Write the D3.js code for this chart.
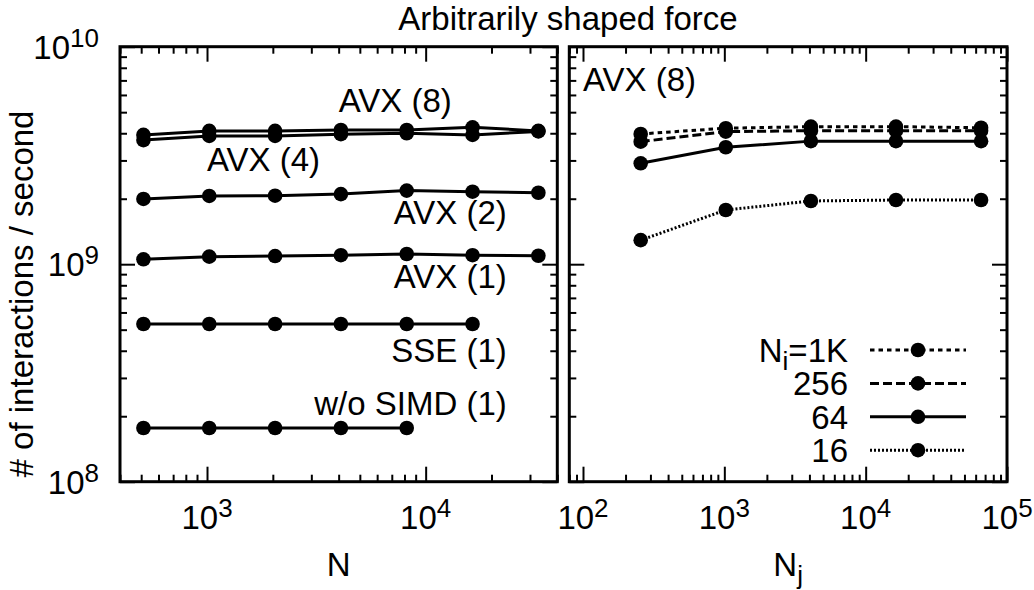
<!DOCTYPE html>
<html><head><meta charset="utf-8">
<script src="https://cdn.jsdelivr.net/npm/d3@7"></script>
<style>
body{margin:0;background:#fff}
svg{display:block}
text{font-family:"Liberation Sans",Arial,Helvetica,sans-serif;fill:#000}
</style>
</head><body>
<svg id="c" width="1034" height="590"></svg>
<script>
// ---------- data ----------
const N_values = [512, 1024, 2048, 4096, 8192, 16384, 32768];
const avx8   = [3.93e9, 4.10e9, 4.10e9, 4.14e9, 4.14e9, 4.26e9, 4.10e9];
const avx4   = [3.72e9, 3.89e9, 3.89e9, 3.96e9, 4.00e9, 3.93e9, 4.08e9];
const avx2   = [1.995e9, 2.06e9, 2.065e9, 2.10e9, 2.18e9, 2.155e9, 2.13e9];
const avx1   = [1.053e9, 1.083e9, 1.09e9, 1.10e9, 1.114e9, 1.10e9, 1.094e9];
const sse1   = [5.31e8, 5.31e8, 5.31e8, 5.31e8, 5.31e8, 5.31e8];
const noSimd = [1.766e8, 1.766e8, 1.766e8, 1.766e8, 1.766e8];

const Nj_values = [256, 1024, 4096, 16384, 65536];
const ni1k  = [3.97e9, 4.22e9, 4.29e9, 4.29e9, 4.24e9];
const ni256 = [3.66e9, 4.07e9, 4.11e9, 4.11e9, 4.11e9];
const ni64  = [2.91e9, 3.45e9, 3.68e9, 3.68e9, 3.68e9];
const ni16  = [1.29e9, 1.775e9, 1.953e9, 1.973e9, 1.973e9];

const leftSeries = [avx8, avx4, avx2, avx1, sse1, noSimd];
const leftLabels = [
  {text: "AVX (8)", x: 4000, y: 5.02e9, anchor: "start"},
  {text: "AVX (4)", x: 1000, y: 2.69e9, anchor: "start"},
  {text: "AVX (2)", x: 23500, y: 1.53e9, anchor: "end"},
  {text: "AVX (1)", x: 23500, y: 7.77e8, anchor: "end"},
  {text: "SSE (1)", x: 23500, y: 3.56e8, anchor: "end"},
  {text: "w/o SIMD (1)", x: 23500, y: 2.03e8, anchor: "end"}
];
const rightLabel = {text: "AVX (8)", x: 100, y: 6.26e9, anchor: "start"};
const rightNames = ["1K", "256", "64", "16"];
const rightSeries = [ni1k, ni256, ni64, ni16];
const rightDash = ["4.5,4", "9,4", null, "2,2"];

const titleText = "Arbitrarily shaped force";
const yLabelText = "# of interactions / second";

// ---------- layout ----------
const svg = d3.select("#c");
svg.append("rect").attr("width", 1034).attr("height", 590).attr("fill", "#fff");
const FS = 33, SUP = 26;
const yTop = 46.7, yBot = 481.7;
const y = d3.scaleLog().domain([1e8, 1e10]).range([yBot, yTop]);
const xL = d3.scaleLog().domain([400, 40000]).range([120, 557.3]);
const xR = d3.scaleLog().domain([80, 1e5]).range([569.3, 1007]);

function logTicks(domain) {
  const [a, b] = domain, major = [], minor = [];
  for (let e = Math.floor(Math.log10(a)); e <= Math.ceil(Math.log10(b)); e++) {
    for (let m = 1; m < 10; m++) {
      const v = m * Math.pow(10, e);
      if (v < a * 0.999 || v > b * 1.001) continue;
      (m === 1 ? major : minor).push(v);
    }
  }
  return {major, minor};
}

function powLabel(g, x, yb, v, anchor) {
  const t = g.append("text").attr("x", x).attr("y", yb)
    .attr("text-anchor", anchor).attr("font-size", FS);
  t.append("tspan").text("10");
  t.append("tspan").attr("font-size", SUP).attr("dy", -12).text(Math.round(Math.log10(v)));
}

function panel(x, yLabels) {
  const g = svg.append("g");
  const xt = logTicks(x.domain()), yt = logTicks(y.domain());
  const [x0, x1] = x.range();
  const add = (axis, tr, vals, size) => {
    const a = g.append("g").attr("transform", tr)
      .call(axis.tickValues(vals).tickSize(size).tickFormat(""));
    a.select(".domain").remove();
    a.selectAll("line").attr("stroke", "#000").attr("stroke-width", 2);
  };
  [[xt.major, -15], [xt.minor, -7]].forEach(([v, s]) => {
    add(d3.axisBottom(x), `translate(0,${yBot})`, v, s);
    add(d3.axisTop(x), `translate(0,${yTop})`, v, s);
  });
  [[yt.major, -15], [yt.minor, -7]].forEach(([v, s]) => {
    add(d3.axisLeft(y), `translate(${x0},0)`, v, s);
    add(d3.axisRight(y), `translate(${x1},0)`, v, s);
  });
  g.append("rect").attr("x", x0).attr("y", yTop).attr("width", x1 - x0).attr("height", yBot - yTop)
    .attr("fill", "none").attr("stroke", "#000").attr("stroke-width", 3);
  xt.major.forEach(v => powLabel(g, x(v), yBot + 47, v, "middle"));
  if (yLabels) yt.major.forEach(v => powLabel(g, 99, y(v) + 12, v, "end"));
  return g;
}

const gL = panel(xL, true);
const gR = panel(xR, false);

const line = (x) => d3.line().x(d => x(d[0])).y(d => y(d[1]));

function drawSeries(g, x, xs, vals, dash) {
  const pts = vals.map((v, i) => [xs[i], v]);
  g.append("path").datum(pts).attr("d", line(x)).attr("fill", "none")
    .attr("stroke", "#000").attr("stroke-width", 3)
    .attr("stroke-dasharray", dash || null);
  g.selectAll(null).data(pts).enter().append("circle")
    .attr("cx", d => x(d[0])).attr("cy", d => y(d[1])).attr("r", 7.3).attr("fill", "#000");
}

leftSeries.forEach(s => drawSeries(gL, xL, N_values, s, null));
rightSeries.forEach((s, i) => drawSeries(gR, xR, Nj_values, s, rightDash[i]));

leftLabels.forEach(l => gL.append("text").attr("x", xL(l.x)).attr("y", y(l.y))
  .attr("text-anchor", l.anchor).attr("font-size", FS).text(l.text));
gR.append("text").attr("x", xR(rightLabel.x)).attr("y", y(rightLabel.y))
  .attr("text-anchor", rightLabel.anchor).attr("font-size", FS).text(rightLabel.text);

// legend
const lg = svg.append("g");
rightNames.forEach((n, i) => {
  const cy = 350 + i * 33.4;
  const t = lg.append("text").attr("x", 848).attr("y", cy + 12).attr("text-anchor", "end").attr("font-size", FS);
  if (i === 0) {
    t.append("tspan").text("N");
    t.append("tspan").attr("font-size", SUP).attr("dy", 8).text("i");
    t.append("tspan").attr("dy", -8).text("=" + n);
  } else t.text(n);
  lg.append("line").attr("x1", 870).attr("x2", 966).attr("y1", cy).attr("y2", cy)
    .attr("stroke", "#000").attr("stroke-width", 3).attr("stroke-dasharray", rightDash[i] || null);
  lg.append("circle").attr("cx", 918).attr("cy", cy).attr("r", 7.3).attr("fill", "#000");
});

// titles
svg.append("text").attr("x", 568).attr("y", 30).attr("text-anchor", "middle").attr("font-size", FS).text(titleText);
svg.append("text").attr("transform", "translate(33.3,294) rotate(-90)").attr("text-anchor", "middle")
  .attr("font-size", FS).text(yLabelText);
svg.append("text").attr("x", (xL.range()[0] + xL.range()[1]) / 2).attr("y", 576)
  .attr("text-anchor", "middle").attr("font-size", FS).text("N");
const nj = svg.append("text").attr("x", (xR.range()[0] + xR.range()[1]) / 2).attr("y", 576)
  .attr("text-anchor", "middle").attr("font-size", FS);
nj.append("tspan").text("N");
nj.append("tspan").attr("font-size", SUP).attr("dy", 8).text("j");
</script>
</body></html>
